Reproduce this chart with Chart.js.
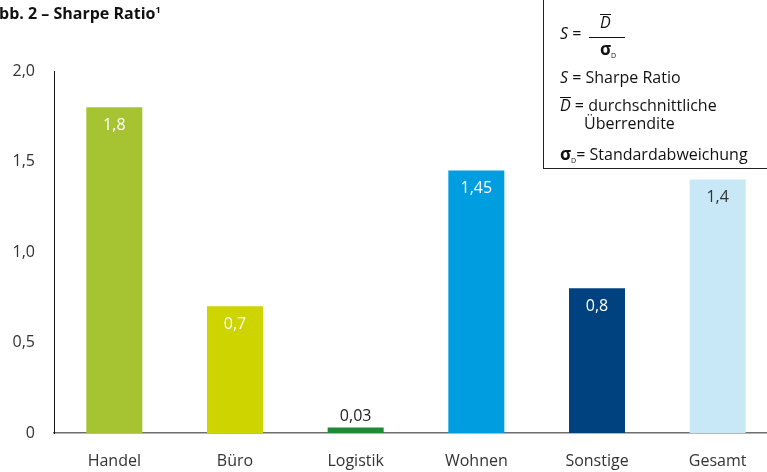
<!DOCTYPE html>
<html>
<head>
<meta charset="utf-8">
<script src="https://cdn.jsdelivr.net/npm/chart.js@4"></script>
<style>
  html, body { margin: 0; padding: 0; background: #fff; overflow: hidden; }
  body { width: 767px; height: 472px; position: relative; font-family: "Open Sans", sans-serif; color: #222; }
  #wrap { position: absolute; left: 0; top: 0; width: 790px; height: 472px; }
  #title { position: absolute; left: -12px; top: 2px; font-weight: bold; font-size: 16px; color: #111; white-space: nowrap; }
  #title sup { font-size: 9px; }
  #legend { position: absolute; left: 543px; top: -2px; width: 260px; height: 171px; border: 1px solid #222; box-sizing: border-box; font-size: 16px; color: #111; }
  #legend .row { position: absolute; white-space: nowrap; line-height: 1; }
  .it { font-style: italic; }
  .ov { display: inline-block; border-top: 1px solid #111; line-height: 0.85; padding-top: 1px; font-style: italic; }
  .sg { font-weight: bold; font-size: 17px; }
  .sub { font-size: 7px; position: relative; top: 3px; }
</style>
</head>
<body>
<div id="wrap"><canvas id="chart" width="790" height="472"></canvas></div>
<div id="title">Abb. 2 – Sharpe Ratio<sup>1</sup></div>
<div id="legend">
  <div class="row" style="left:16px; top:26px;"><span class="it">S</span> =</div>
  <div class="row" style="left:56px; top:15px;"><span class="ov">D</span></div>
  <div class="row" style="left:45px; top:38px; width:36px; height:0; border-top:1px solid #111;"></div>
  <div class="row" style="left:56px; top:41px;"><span class="sg">σ</span><span class="sub">D</span></div>
  <div class="row" style="left:16px; top:70px;"><span class="it">S</span> = Sharpe Ratio</div>
  <div class="row" style="left:16px; top:98px;"><span class="ov">D</span> = durchschnittliche</div>
  <div class="row" style="left:40px; top:116px;">Überrendite</div>
  <div class="row" style="left:16px; top:146px;"><span class="sg">σ</span><span class="sub">D</span>= Standardabweichung</div>
</div>
<script>
const categories = ['Handel', 'Büro', 'Logistik', 'Wohnen', 'Sonstige', 'Gesamt'];
const sharpeValues = [1.8, 0.7, 0.03, 1.45, 0.8, 1.4];
const yTickLabels = { 0: '0', 0.5: '0,5', 1: '1,0', 1.5: '1,5', 2: '2,0' };

const barColors = ['#a6c431', '#cdd400', '#1e8a35', '#009ee0', '#00427f', '#c8e7f7'];
const labelColors = ['#fff', '#fff', '#222', '#fff', '#fff', '#333'];

const valueLabels = {
    id: 'valueLabels',
    afterDatasetsDraw(chart) {
        const ctx = chart.ctx;
        const meta = chart.getDatasetMeta(0);
        ctx.save();
        ctx.font = '16px "Open Sans", sans-serif';
        ctx.textAlign = 'center';
        ctx.textBaseline = 'middle';
        meta.data.forEach((bar, i) => {
            const v = sharpeValues[i];
            const txt = v.toLocaleString('de-DE');
            ctx.fillStyle = labelColors[i];
            if (v < 0.1) {
                ctx.fillText(txt, bar.x, bar.y - 11);
            } else {
                ctx.fillText(txt, bar.x, bar.y + 18);
            }
        });
        ctx.restore();
    }
};

new Chart(document.getElementById('chart'), {
    type: 'bar',
    data: {
        labels: categories,
        datasets: [{
            data: sharpeValues,
            backgroundColor: barColors,
            borderWidth: 0,
            categoryPercentage: 1,
            barPercentage: 0.464
        }]
    },
    options: {
        responsive: false,
        animation: false,
        events: [],
        layout: { padding: { top: 71, right: 12, left: 0, bottom: 0 } },
        plugins: { legend: { display: false }, tooltip: { enabled: false } },
        scales: {
            x: {
                z: 1,
                grid: { display: false, drawTicks: false },
                border: { color: '#6e6e6e', width: 1.5 },
                ticks: { padding: 19, color: '#333', font: { family: 'Open Sans', size: 16 } },
                afterFit: s => { s.height = 39; }
            },
            y: {
                min: 0, max: 2,
                grid: { display: false, drawTicks: false },
                border: { color: '#111', width: 1 },
                ticks: {
                    stepSize: 0.5, padding: 19, color: '#333',
                    font: { family: 'Open Sans', size: 16 },
                    callback: v => yTickLabels[v]
                },
                afterFit: s => { s.width = 54; }
            }
        }
    },
    plugins: [valueLabels]
});
</script>
</body>
</html>
